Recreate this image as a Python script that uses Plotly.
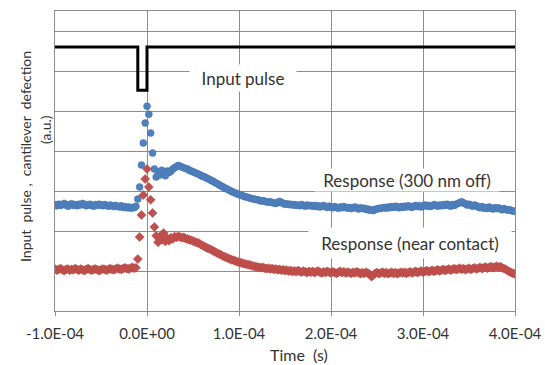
import plotly.graph_objects as go

# sampling grid (s)
t_start = -1.0e-4
t_step = 2.0e-6
n_pts = 251
time_s = [t_start + i * t_step for i in range(n_pts)]

# Input pulse (a.u.)
pulse_t = [-1.0e-4, -1.0e-5, -1.0e-5, 0.0, 0.0, 4.0e-4]
pulse_v = [6.6, 6.6, 5.52, 5.52, 6.6, 6.6]

# Response (300 nm off)
resp_off = [
    2.66, 2.63, 2.67, 2.64, 2.66, 2.69, 2.65, 2.62, 2.66, 2.68,
    2.64, 2.66, 2.63, 2.67, 2.65, 2.69, 2.66, 2.63, 2.65, 2.67,
    2.64, 2.62, 2.66, 2.64, 2.67, 2.65, 2.63, 2.66, 2.64, 2.62,
    2.65, 2.63, 2.61, 2.64, 2.62, 2.60, 2.63, 2.59, 2.61, 2.58,
    2.60, 2.57, 2.59, 2.58,
    2.62, 2.80, 3.10, 3.65, 4.20, 4.70, 5.12, 4.92, 4.45, 3.95, 3.55, 3.35,
    3.48, 3.40, 3.52, 3.44, 3.38, 3.50, 3.46,
    3.50, 3.55, 3.58, 3.61, 3.64, 3.62, 3.60,
    3.58, 3.56, 3.55, 3.52, 3.50, 3.48, 3.46, 3.44, 3.42, 3.40,
    3.37, 3.36, 3.33, 3.31, 3.29, 3.26, 3.24, 3.21, 3.19, 3.16,
    3.13, 3.11, 3.08, 3.06, 3.04, 3.01, 2.99, 2.97, 2.95, 2.93,
    2.91, 2.90, 2.88, 2.86, 2.85, 2.84, 2.82, 2.81, 2.80, 2.79,
    2.78, 2.77, 2.75, 2.76, 2.74, 2.73, 2.72, 2.73, 2.71, 2.70,
    2.69, 2.71, 2.74, 2.72, 2.69, 2.67, 2.68, 2.66, 2.67, 2.65,
    2.66, 2.64, 2.65, 2.63, 2.66, 2.64, 2.62, 2.65, 2.63, 2.64,
    2.62, 2.64, 2.61, 2.63, 2.60, 2.62, 2.64, 2.61, 2.59, 2.62,
    2.60, 2.58, 2.61, 2.59, 2.57, 2.60, 2.58, 2.61, 2.59, 2.57,
    2.59, 2.56, 2.58, 2.60, 2.57, 2.55, 2.58, 2.56, 2.57, 2.54,
    2.55, 2.52, 2.53, 2.51, 2.54, 2.55, 2.57, 2.56, 2.58, 2.59,
    2.57, 2.60, 2.58, 2.61, 2.59, 2.62, 2.60, 2.58, 2.61, 2.59,
    2.62, 2.60, 2.63, 2.61, 2.59, 2.62, 2.64, 2.61, 2.63, 2.60,
    2.63, 2.65, 2.62, 2.64, 2.61, 2.63, 2.66, 2.64, 2.62, 2.65,
    2.63, 2.66, 2.64, 2.67, 2.65, 2.62, 2.66, 2.64, 2.67, 2.69,
    2.71, 2.73, 2.70, 2.68, 2.65, 2.67, 2.64, 2.62, 2.65, 2.63,
    2.60, 2.58, 2.61, 2.57, 2.59, 2.56, 2.60, 2.57, 2.55, 2.58,
    2.56, 2.58, 2.55, 2.53, 2.56, 2.54, 2.52, 2.53, 2.51, 2.50, 2.49,
]

# Response (near contact)
resp_contact = [
    1.05, 1.02, 1.04, 1.06, 1.03, 1.01, 1.04, 1.05, 1.02, 1.04,
    1.03, 1.06, 1.04, 1.02, 1.05, 1.03, 1.01, 1.04, 1.06, 1.03,
    1.02, 1.04, 1.05, 1.03, 1.01, 1.03, 1.05, 1.04, 1.02, 1.04,
    1.06, 1.04, 1.03, 1.05, 1.07, 1.05, 1.04, 1.06, 1.08, 1.06,
    1.05, 1.07, 1.09, 1.07,
    1.08, 1.30, 1.85, 2.40, 2.90, 3.30, 3.55, 3.10, 2.78, 2.45, 2.10, 1.88,
    1.72, 1.85, 1.78, 1.95, 1.74, 1.82, 1.76,
    1.83, 1.80, 1.86, 1.84, 1.87, 1.85, 1.83,
    1.84, 1.81, 1.80, 1.78, 1.77, 1.75, 1.73, 1.71, 1.70, 1.67,
    1.64, 1.62, 1.59, 1.57, 1.55, 1.53, 1.50, 1.48, 1.45, 1.43,
    1.41, 1.38, 1.36, 1.34, 1.32, 1.30, 1.28, 1.27, 1.25, 1.23,
    1.22, 1.21, 1.19, 1.18, 1.17, 1.16, 1.15, 1.13, 1.12, 1.11,
    1.10, 1.09, 1.08, 1.09, 1.07, 1.06, 1.07, 1.05, 1.06, 1.04,
    1.05, 1.03, 1.04, 1.02, 1.03, 1.01, 1.02, 1.00, 1.01, 0.99,
    1.00, 0.98, 1.01, 0.99, 0.97, 1.00, 0.98, 0.96, 0.99, 0.97,
    0.99, 0.96, 0.98, 1.00, 0.97, 0.95, 0.98, 0.96, 0.99, 0.97,
    0.95, 0.98, 0.96, 0.94, 0.97, 0.99, 0.96, 0.98, 0.95, 0.97,
    0.96, 0.94, 0.97, 0.95, 0.98, 0.96, 0.93, 0.96, 0.94, 0.97,
    0.95, 0.92, 0.86, 0.90, 0.94, 0.96, 0.93, 0.95, 0.97, 0.94,
    0.96, 0.93, 0.95, 0.97, 0.94, 0.96, 0.93, 0.95, 0.97, 0.95,
    0.97, 0.94, 0.96, 0.98, 0.95, 0.97, 0.99, 0.96, 0.98, 1.00,
    0.97, 0.99, 1.01, 0.98, 1.00, 1.02, 0.99, 1.01, 1.03, 1.00,
    1.02, 1.04, 1.01, 1.03, 1.05, 1.02, 1.04, 1.06, 1.03, 1.05,
    1.07, 1.04, 1.06, 1.03, 1.05, 1.07, 1.04, 1.06, 1.08, 1.05,
    1.07, 1.09, 1.06, 1.08, 1.10, 1.07, 1.09, 1.11, 1.08, 1.10,
    1.12, 1.09, 1.11, 1.08, 1.06, 1.04, 1.01, 0.98, 0.96, 0.94, 0.93,
]

x_tickvals = [-1.0e-4, 0.0, 1.0e-4, 2.0e-4, 3.0e-4, 4.0e-4]
x_ticktext = ["-1.0E-04", "0.0E+00", "1.0E-04", "2.0E-04", "3.0E-04", "4.0E-04"]
y_tickvals = [0, 1, 2, 3, 4, 5, 6, 7]

FONT = "Lato, 'Open Sans', sans-serif"
GRID = "#8c8c8c"
TXT = "#333333"

fig = go.Figure()
fig.add_trace(go.Scatter(
    x=pulse_t, y=pulse_v, mode="lines",
    line=dict(color="black", width=3), showlegend=False,
))
fig.add_trace(go.Scatter(
    x=time_s, y=resp_off, mode="markers",
    marker=dict(symbol="circle", size=7, color="#4F81BD",
                line=dict(color="#4675B0", width=0.5)),
    showlegend=False,
))
fig.add_trace(go.Scatter(
    x=time_s, y=resp_contact, mode="markers",
    marker=dict(symbol="diamond", size=7, color="#C0504D",
                line=dict(color="#B84643", width=0.5)),
    showlegend=False,
))

fig.update_xaxes(
    range=[-1.0e-4, 4.0e-4], tickvals=x_tickvals, ticktext=x_ticktext,
    showgrid=True, gridcolor=GRID, gridwidth=1,
    showline=True, linecolor=GRID, linewidth=1, mirror=True,
    ticks="outside", ticklen=4, tickcolor=GRID,
    tickfont=dict(family=FONT, size=15, color=TXT),
    ticklabelstandoff=5, zeroline=False, automargin=False,
)
fig.update_yaxes(
    range=[0, 7.5], tickvals=y_tickvals, showticklabels=False,
    showgrid=True, gridcolor=GRID, gridwidth=1,
    showline=True, linecolor=GRID, linewidth=1, mirror=True,
    ticks="", zeroline=False, automargin=False,
)

annots = [
    dict(x=1.04e-4, y=5.83, xref="x", yref="y", text="Input pulse",
         width=104, height=24),
    dict(x=2.83e-4, y=3.27, xref="x", yref="y", text="Response (300 nm off)",
         width=182, height=20),
    dict(x=2.86e-4, y=1.70, xref="x", yref="y", text="Response (near contact)",
         width=200, height=28),
]
for a in annots:
    fig.add_annotation(**a, showarrow=False, bgcolor="white",
                       font=dict(family=FONT, size=17, color=TXT),
                       xanchor="center", yanchor="middle")

# axis titles
fig.add_annotation(x=(299 - 55) / 460, y=(311 - 354) / 300, xref="paper", yref="paper",
                   text="Time  (s)", showarrow=False,
                   font=dict(family=FONT, size=16, color=TXT),
                   xanchor="center", yanchor="middle")
fig.add_annotation(x=(25 - 55) / 460, y=(311 - 157) / 300, xref="paper", yref="paper",
                   text="Input  pulse ,  cantilever  defection", textangle=-90,
                   showarrow=False, font=dict(family=FONT, size=14, color=TXT),
                   xanchor="center", yanchor="middle")
fig.add_annotation(x=(45 - 55) / 460, y=(311 - 130) / 300, xref="paper", yref="paper",
                   text="(a.u.)", textangle=-90,
                   showarrow=False, font=dict(family=FONT, size=14, color=TXT),
                   xanchor="center", yanchor="middle")

fig.update_layout(
    width=545, height=365,
    margin=dict(l=55, r=30, t=11, b=54, autoexpand=False),
    paper_bgcolor="white", plot_bgcolor="white",
    font=dict(family=FONT, color=TXT),
)

fig.write_html("out.html", config={"displayModeBar": False},
               post_script="document.body.style.margin='0';")
